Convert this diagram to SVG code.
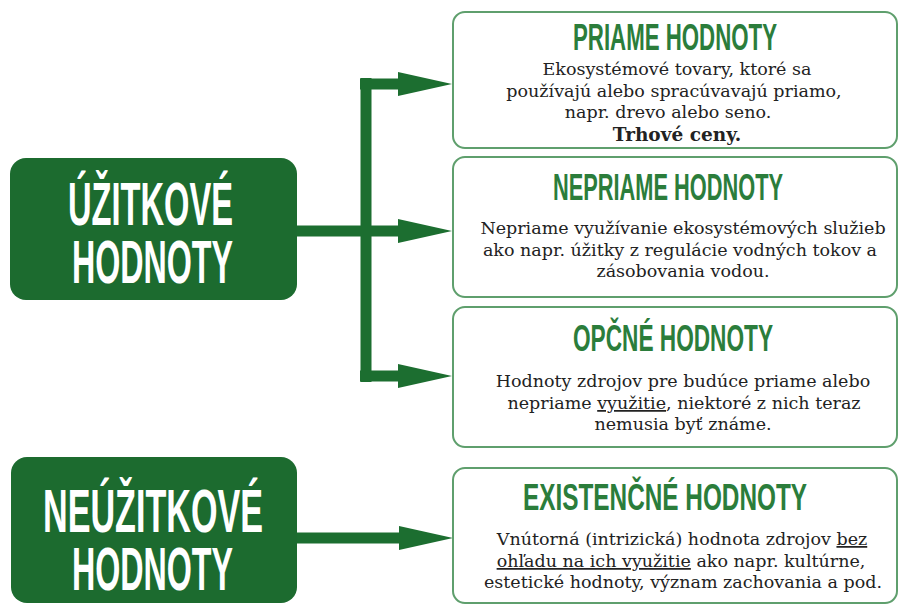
<svg xmlns="http://www.w3.org/2000/svg" width="899" height="612" viewBox="0 0 899 612">
<defs>
<style>
.main{fill:#1c6b2f}
.mt{fill:#ffffff;font-family:"Liberation Sans",Arial,sans-serif;font-weight:bold;font-size:61px;text-anchor:middle}
.box{fill:#ffffff;stroke:#5f9f6d;stroke-width:2}
.tt{fill:#2b7d3b;font-family:"Liberation Sans",Arial,sans-serif;font-weight:bold;font-size:37px;text-anchor:middle}
.bt{fill:#222222;font-family:"DejaVu Serif","Liberation Serif",serif;font-size:17.5px;text-anchor:middle}
.b{font-weight:bold;font-size:18.5px}
.u{text-decoration:underline}
.con{fill:none;stroke:#1c6e30;stroke-width:11}
</style>
<marker id="ah" markerUnits="userSpaceOnUse" markerWidth="56" markerHeight="24" refX="12" refY="12" orient="auto">
<path d="M0,0 L54,12 L0,24 Z" fill="#1c6e30"/>
</marker>
</defs>
<rect width="899" height="612" fill="#ffffff"/>

<g id="connectors">
<path class="con" d="M366 78 V382" stroke-width="12"/>
<path class="con" d="M360 84 H410" marker-end="url(#ah)"/>
<path class="con" d="M297 231 H410" marker-end="url(#ah)"/>
<path class="con" d="M360 376 H410" marker-end="url(#ah)"/>
<path class="con" d="M297 538 H411" marker-end="url(#ah)"/>
</g>

<g id="uzitkove">
<rect class="main" x="10" y="158" width="287" height="142" rx="16"/>
<text class="mt" x="150.5" y="225" textLength="165" lengthAdjust="spacingAndGlyphs">ÚŽITKOVÉ</text>
<text class="mt" x="152.5" y="283" textLength="161" lengthAdjust="spacingAndGlyphs">HODNOTY</text>
</g>

<g id="neuzitkove">
<rect class="main" x="11" y="457" width="286" height="146" rx="16"/>
<text class="mt" x="153" y="532" textLength="220" lengthAdjust="spacingAndGlyphs">NEÚŽITKOVÉ</text>
<text class="mt" x="152.5" y="590" textLength="161" lengthAdjust="spacingAndGlyphs">HODNOTY</text>
</g>

<g id="priame">
<rect class="box" x="453" y="12" width="444" height="136" rx="12"/>
<text class="tt" x="675" y="50" textLength="204" lengthAdjust="spacingAndGlyphs">PRIAME HODNOTY</text>
<text class="bt" x="677" y="75">Ekosystémové tovary, ktoré sa</text>
<text class="bt" x="674" y="97">používajú alebo spracúvavajú priamo,</text>
<text class="bt" x="668" y="118">napr. drevo alebo seno.</text>
<text class="bt b" x="677" y="141">Trhové ceny.</text>
</g>

<g id="nepriame">
<rect class="box" x="453" y="157" width="444" height="140" rx="12"/>
<text class="tt" x="668" y="200" textLength="230" lengthAdjust="spacingAndGlyphs">NEPRIAME HODNOTY</text>
<text class="bt" x="683" y="234">Nepriame využívanie ekosystémových služieb</text>
<text class="bt" x="680" y="256">ako napr. úžitky z regulácie vodných tokov a</text>
<text class="bt" x="683" y="277">zásobovania vodou.</text>
</g>

<g id="opcne">
<rect class="box" x="453" y="307" width="444" height="140" rx="12"/>
<text class="tt" x="673" y="351" textLength="200" lengthAdjust="spacingAndGlyphs">OPČNÉ HODNOTY</text>
<text class="bt" x="683" y="387">Hodnoty zdrojov pre budúce priame alebo</text>
<text class="bt" x="684" y="409">nepriame <tspan class="u">využitie</tspan>, niektoré z nich teraz</text>
<text class="bt" x="683" y="430">nemusia byť známe.</text>
</g>

<g id="existencne">
<rect class="box" x="453" y="468" width="444" height="135" rx="12"/>
<text class="tt" x="665" y="510" textLength="284" lengthAdjust="spacingAndGlyphs">EXISTENČNÉ HODNOTY</text>
<text class="bt" x="682" y="545">Vnútorná (intrizická) hodnota zdrojov <tspan class="u">bez</tspan></text>
<text class="bt" x="681" y="567"><tspan class="u">ohľadu na ich využitie</tspan> ako napr. kultúrne,</text>
<text class="bt" x="683" y="588">estetické hodnoty, význam zachovania a pod.</text>
</g>
</svg>
